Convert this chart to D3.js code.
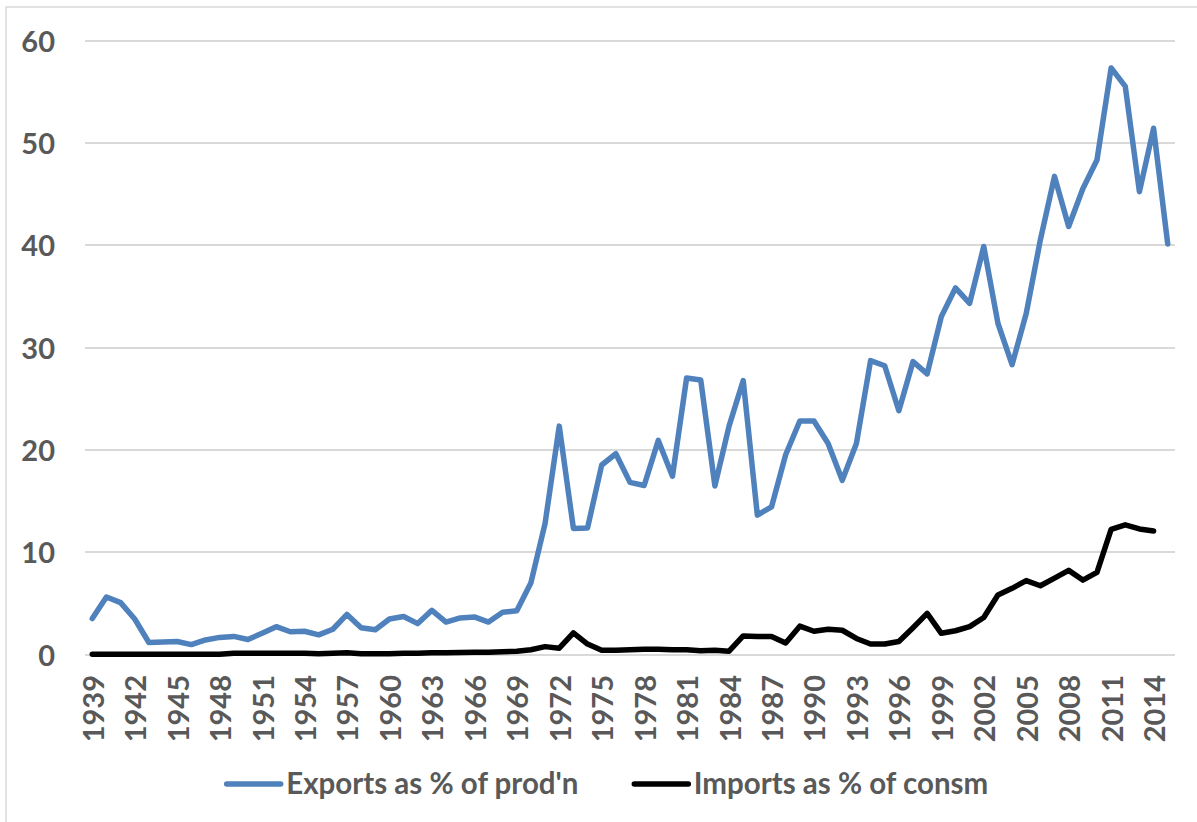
<!DOCTYPE html>
<html>
    <head>
        <meta charset="utf-8">
        <script src="https://d3js.org/d3.v7.min.js"></script>
        <style>
            body {
                margin: 0;
                background: #ffffff;
            }

            #chart-svg .font {
                font-family: Lato, "Open Sans", "Liberation Sans", sans-serif;
                font-weight: bold;
                fill: #595959;
            }

            #chart-svg .frame {
                fill: none;
                stroke: #d9d9d9;
                stroke-width: 1.5;
            }

            #chart-svg .grid line {
                stroke: #d9d9d9;
                stroke-width: 2;
                shape-rendering: crispEdges;
            }

            #chart-svg .y-label,
            #chart-svg .x-label {
                font-size: 29px;
            }

            #chart-svg .legend-text {
                font-size: 29.5px;
            }

            #chart-svg .line {
                fill: none;
                stroke-width: 5.5;
                stroke-linejoin: round;
                stroke-linecap: round;
            }
        </style>
    </head>
    <body>

        <script>

            const SVG_ID = "chart-svg";
            const SVG_WIDTH = 1197;
            const SVG_HEIGHT = 822;
            const PLOT_LEFT = 85.2;
            const PLOT_RIGHT = 1174.8;
            const PLOT_TOP = 40.3;
            const PLOT_BOTTOM = 654.3;

            // categories
            var years = [
                1939, 1940, 1941, 1942, 1943, 1944, 1945, 1946, 1947, 1948,
                1949, 1950, 1951, 1952, 1953, 1954, 1955, 1956, 1957, 1958,
                1959, 1960, 1961, 1962, 1963, 1964, 1965, 1966, 1967, 1968,
                1969, 1970, 1971, 1972, 1973, 1974, 1975, 1976, 1977, 1978,
                1979, 1980, 1981, 1982, 1983, 1984, 1985, 1986, 1987, 1988,
                1989, 1990, 1991, 1992, 1993, 1994, 1995, 1996, 1997, 1998,
                1999, 2000, 2001, 2002, 2003, 2004, 2005, 2006, 2007, 2008,
                2009, 2010, 2011, 2012, 2013, 2014, 2015
            ];

            // Exports as % of prod'n
            var exportsPct = [
                3.5, 5.6, 5.05, 3.45, 1.15, 1.2, 1.25, 0.95, 1.4, 1.65,
                1.75, 1.45, 2.05, 2.7, 2.2, 2.25, 1.9, 2.45, 3.9, 2.6,
                2.4, 3.45, 3.7, 3.0, 4.3, 3.15, 3.55, 3.65, 3.15, 4.1,
                4.25, 7.0, 12.8, 22.3, 12.3, 12.35, 18.5, 19.6, 16.8, 16.5,
                20.9, 17.4, 27.0, 26.8, 16.45, 22.3, 26.75, 13.6, 14.4, 19.5,
                22.8, 22.8, 20.6, 17.0, 20.6, 28.7, 28.2, 23.8, 28.6, 27.4,
                33.0, 35.8, 34.3, 39.85, 32.35, 28.3, 33.3, 40.5, 46.7, 41.8,
                45.5, 48.3, 57.3, 55.5, 45.2, 51.4, 40.1
            ];

            // Imports as % of consm (no 2015 value)
            var importsPct = [
                0.0, 0.0, 0.0, 0.0, 0.0, 0.0, 0.0, 0.0, 0.0, 0.0,
                0.1, 0.1, 0.1, 0.1, 0.1, 0.1, 0.05, 0.1, 0.15, 0.05,
                0.05, 0.05, 0.1, 0.1, 0.15, 0.15, 0.18, 0.2, 0.2, 0.25,
                0.3, 0.45, 0.75, 0.6, 2.1, 1.0, 0.4, 0.4, 0.45, 0.5,
                0.5, 0.45, 0.45, 0.35, 0.4, 0.3, 1.8, 1.75, 1.75, 1.1,
                2.75, 2.25, 2.45, 2.35, 1.55, 1.0, 1.0, 1.25, 2.6, 4.0,
                2.05, 2.3, 2.7, 3.6, 5.8, 6.45, 7.2, 6.7, 7.45, 8.2,
                7.25, 8.0, 12.2, 12.65, 12.25, 12.05, null
            ];

            // axis ticks
            var yTicks = [0, 10, 20, 30, 40, 50, 60];
            var xTickYears = [
                1939, 1942, 1945, 1948, 1951, 1954, 1957, 1960, 1963, 1966,
                1969, 1972, 1975, 1978, 1981, 1984, 1987, 1990, 1993, 1996,
                1999, 2002, 2005, 2008, 2011, 2014
            ];

            const SERIES_LIST = [
                {name: "Exports as % of prod'n", values: exportsPct, color: "#4f81bd"},
                {name: "Imports as % of consm", values: importsPct, color: "#000000"}
            ];

            var svg = d3.select("body")
                .append("svg")
                .attr("width", SVG_WIDTH)
                .attr("height", SVG_HEIGHT)
                .attr("id", SVG_ID);

            svg.append("rect")
                .classed("frame", true)
                .attr("x", 6)
                .attr("y", 7)
                .attr("width", SVG_WIDTH + 10)
                .attr("height", SVG_HEIGHT + 10);

            var xScale = d3.scaleBand()
                .domain(years)
                .range([PLOT_LEFT, PLOT_RIGHT]);
            var xCenter = function(year) {
                return xScale(year) + xScale.bandwidth() / 2;
            };

            var yScale = d3.scaleLinear()
                .domain([0, 60])
                .range([PLOT_BOTTOM, PLOT_TOP]);

            // horizontal gridlines
            var yGrid = d3.axisLeft(yScale)
                .tickValues(yTicks)
                .tickSize(-(PLOT_RIGHT - PLOT_LEFT))
                .tickFormat("");
            var gridGroup = svg.append("g")
                .classed("grid", true)
                .attr("transform", "translate(" + PLOT_LEFT + ", 0)")
                .call(yGrid);
            gridGroup.select(".domain").remove();

            // y tick labels
            svg.selectAll("y-label")
                .data(yTicks)
                .enter()
                .append("text")
                .classed("font y-label", true)
                .attr("x", 55)
                .attr("y", function(d) {
                    return yScale(d);
                })
                .attr("text-anchor", "end")
                .attr("dominant-baseline", "central")
                .text(function(d) {
                    return d;
                });

            // x tick labels, rotated
            svg.selectAll("x-label")
                .data(xTickYears)
                .enter()
                .append("text")
                .classed("font x-label", true)
                .attr("transform", function(d) {
                    return "translate(" + xCenter(d) + ", 675) rotate(-90)";
                })
                .attr("text-anchor", "end")
                .attr("dominant-baseline", "central")
                .text(function(d) {
                    return d;
                });

            // series lines
            for (var i = 0; i < SERIES_LIST.length; i++) {
                var series = SERIES_LIST[i];
                var line = d3.line()
                    .defined(function(d) {
                        return d.value !== null;
                    })
                    .x(function(d) {
                        return xCenter(d.year);
                    })
                    .y(function(d) {
                        return yScale(d.value);
                    });
                var points = years.map(function(year, j) {
                    return {year: year, value: series.values[j]};
                });
                svg.append("path")
                    .datum(points)
                    .classed("line", true)
                    .attr("stroke", series.color)
                    .attr("d", line);
            }

            // legend
            var legendX = [226.7, 634.3];
            var legendY = 784;
            for (var k = 0; k < SERIES_LIST.length; k++) {
                svg.append("line")
                    .attr("x1", legendX[k])
                    .attr("x2", legendX[k] + 54)
                    .attr("y1", legendY)
                    .attr("y2", legendY)
                    .attr("stroke", SERIES_LIST[k].color)
                    .attr("stroke-width", 5.5)
                    .attr("stroke-linecap", "round");
                svg.append("text")
                    .classed("font legend-text", true)
                    .attr("x", legendX[k] + 59.5)
                    .attr("y", 794)
                    .text(SERIES_LIST[k].name);
            }
        </script>
    </body>
</html>
